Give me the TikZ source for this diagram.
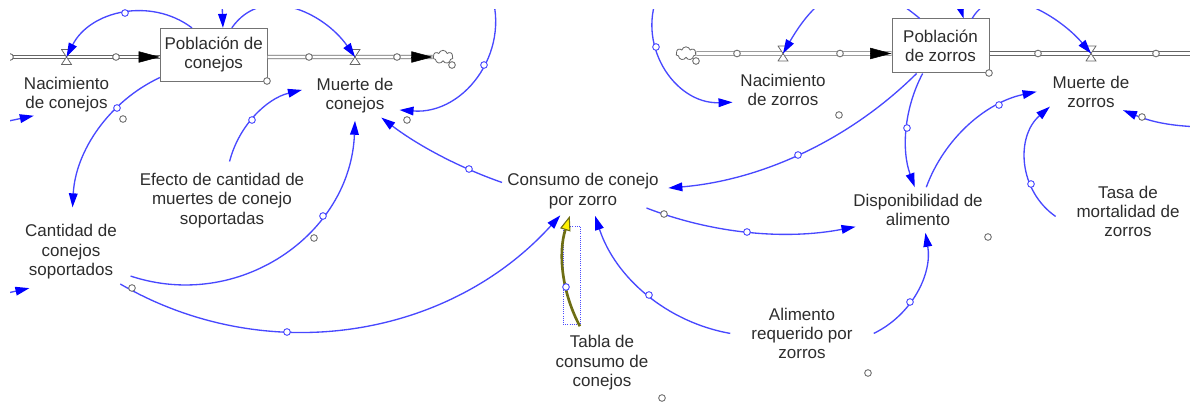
\documentclass[tikz,border=0pt]{standalone}
\usepackage{fontspec}
\setmainfont{Liberation Sans}
\usetikzlibrary{positioning,arrows.meta,shapes.geometric,shapes.symbols}

\definecolor{linkblue}{RGB}{72,72,255}
\definecolor{tipblue}{RGB}{0,0,255}
\definecolor{txtgrey}{RGB}{45,45,45}
\definecolor{olivelk}{RGB}{110,110,20}

\begin{document}
\begin{tikzpicture}[
    x=0.75pt, y=-0.75pt,
    font={\fontsize{12.75pt}{14.6pt}\selectfont},
    var/.style={ellipse, inner sep=0pt, align=center, text=txtgrey},
    stock/.style={rectangle, draw=black!55, fill=white, line width=0.75pt,
        align=center, inner sep=0pt, minimum height=39.5pt, text=txtgrey},
    valve/.style={minimum width=8.25pt, minimum height=12pt, inner sep=0pt,
        path picture={\draw[black!60, fill=white, line width=0.6pt,
            shift={(path picture bounding box.center)}]
            (-5,-7.5) -- (5,-7.5) -- (-5,7.5) -- (5,7.5) -- cycle;}},
    sky/.style={cloud, cloud puffs=7, aspect=1.5, draw=black!60, fill=white,
        line width=0.6pt, minimum width=15pt, minimum height=10pt, inner sep=0pt},
    pipe/.style={draw=black!60, double=white, double distance=2.2pt, line width=0.55pt},
    pipetip/.style={-{Triangle[length=16pt,width=8.5pt]}, black, line width=0.4pt},
    link/.style={draw=linkblue, line width=1pt,
        -{Triangle[length=10.5pt,width=6.5pt,color=tipblue]}},
    tablink/.style={draw=olivelk, line width=2pt,
        -{Triangle[length=11pt,width=8pt,fill=yellow,line width=0.8pt]}},
    selbox/.style={draw=blue!70, densely dotted, line width=0.6pt},
    lh/.style={circle, draw=linkblue, fill=white, line width=0.7pt,
        inner sep=0pt, minimum size=5pt},
    gh/.style={lh, draw=black!55},
]
\useasboundingbox (0,0) rectangle (1190,402);
\begin{scope}
\clip (10,10) rectangle (1190,402);

% ---- stocks ----
\node[stock, minimum width=80pt] (pobC) at (213.7,54.7) {Población de\\conejos};
\node[stock, minimum width=72.75pt, minimum height=40.5pt] (pobZ) at (940.5,46) {Población\\de zorros};

% ---- clouds, pipes ----
\coordinate (srcC) at (4,57);
\node[sky] (cloudC) at (443,57) {};
\node[sky] (cloudZ) at (686,53.5) {};
\coordinate (sinkZ) at (1200,53.5);

\draw[pipe] (srcC) -- (srcC -| pobC.west);
\draw[pipe] (srcC -| pobC.east) -- (cloudC);
\draw[pipe] (cloudZ) -- (cloudZ -| pobZ.west);
\draw[pipe] (cloudZ -| pobZ.east) -- (sinkZ);

\coordinate (inC) at (srcC -| pobC.west);
\coordinate (outC) at (cloudC.west);
\coordinate (inZ) at (cloudZ -| pobZ.west);
\foreach \t in {inC,outC,inZ}
    \draw[pipetip] ([xshift=-16pt]\t) -- (\t);

% ---- valves + flow names ----
\node[valve] (vNacC)  at (66.5,57) {};
\node[valve] (vMuerC) at (355,57) {};
\node[valve] (vNacZ)  at (783,53.5) {};
\node[valve] (vMuerZ) at (1091,53.5) {};

\node[var, below=3pt of vNacC] (nacC) {Nacimiento\\de conejos};
\node[var, below=3.75pt of vMuerC] (muerC) {Muerte de\\conejos};
\node[var, below=3.8pt of vNacZ] (nacZ) {Nacimiento\\de zorros};
\node[var, below=5.3pt of vMuerZ] (muerZ) {Muerte de\\zorros};

% ---- auxiliaries ----
\node[var] (efecto) at (222,200.4) {Efecto de cantidad de\\muertes de conejo\\soportadas};
\node[var, inner sep=3pt] (cantidad) at (71,252) {Cantidad de\\conejos\\soportados};
\node[var, inner xsep=-11.25pt] (consumo) at (583,191) {Consumo de conejo\\por zorro};
\node[var] (tabla) at (602,363) {Tabla de\\consumo de\\conejos};
\node[var] (alimento) at (802,333.4) {Alimento\\requerido por\\zorros};
\node[var] (dispon) at (918,210) {Disponibilidad de\\alimento};
\node[var] (tasa) at (1128,211.4) {Tasa de\\mortalidad de\\zorros};

% ---- loose ends outside the frame ----
\coordinate (topC) at (222,0);
\coordinate (topZ) at (958,0);
\coordinate (offA) at (-15,126);
\coordinate (offB) at (-15,298);
\coordinate (offM) at (488,-15);
\coordinate (offR) at (1200,127);
\coordinate (offZ) at (660,-10);

% ---- links ----
\draw[selbox] (563,226) rectangle (580,324);
\draw[link] (pobC.129) to[bend right=50, looseness=1.03] (vNacC.center);
\draw[link] (pobC.56) to[out=55, in=125, looseness=1.1] (vMuerC.center);
\draw[link] (topC) -- (pobC.71);
\draw[link] (pobC.203) to[bend right=31, looseness=.92] (cantidad.88);
\draw[link] (offA) -- (nacC.213);
\draw[link] (offB) -- (cantidad.221);
\draw[link] (efecto.79) to[bend left=31, looseness=.92] (muerC.174);
\draw[link] (cantidad.-22) to[bend right=53, looseness=1.07] (muerC.south);
\draw[link] (cantidad.-33) to[bend right=39, looseness=.96] (consumo.227);
\draw[link] (consumo.174) to[bend left=9, looseness=.86] (muerC.-40);
\draw[link] (offM) to[bend left=59, looseness=1.12] (muerC.-18);
\draw[link] (pobZ.229) to[bend left=20, looseness=.88] (consumo.2);
\draw[link] (consumo.-15) to[bend right=16, looseness=.87] (dispon.195);
\draw[tablink] (tabla.121) to[bend left=23, looseness=.89] (consumo.242);
\draw[link] (alimento.west) to[bend left=31, looseness=.92] (consumo.296);
\draw[link] (alimento.east) to[bend right=37, looseness=.95] (dispon.288);
\draw[link] (pobZ.237) to[bend right=24, looseness=.89] (dispon.98);
\draw[link] (dispon.70) to[bend left=29, looseness=.91] (muerZ.180);
\draw[link] (tasa.184) to[bend left=52, looseness=1.06] (muerZ.200);
\draw[link] (offR) to[bend left=10] (muerZ.-30);
\draw[link] (pobZ.127) to[out=140, in=60, looseness=1.4] (vNacZ.center);
\draw[link] (offZ) to[bend right=59, looseness=1.12] (nacZ.194);
\draw[link] (pobZ.41) to[out=60, in=130] (vMuerZ.center);
\draw[link] (topZ) -- (pobZ.50);

% ---- handles ----
\foreach \n/\x/\y in {m1/125/13, m4/117/108, m6/252/120, m7/323/216, m8/287/332,
    m9/469/169, m10/484/65, m11/798/155, m12/747/232, m13/566/287, m14/649/295,
    m15/910/302, m16/907/128, m17/999/105, m18/1031/184, m21/656/47}
  \node[lh] (\n) at (\x,\y) {};
\foreach \n/\x/\y in {g1/10/57, g2/116/57, g3/309/57, g4/397/57, g5/267/81, g6/452/65,
    g7/123/119, g8/407/120, g9/314/238, g10/132/288, g11/664/214, g12/696/61,
    g13/737/53.5, g14/840/53.5, g15/989/73, g16/1038/53.5, g17/1156/53.5,
    g18/839/115, g19/988/237, g20/868/373, g21/662/398, g22/1142/117}
  \node[gh] (\n) at (\x,\y) {};
\end{scope}
\end{tikzpicture}
\end{document}
